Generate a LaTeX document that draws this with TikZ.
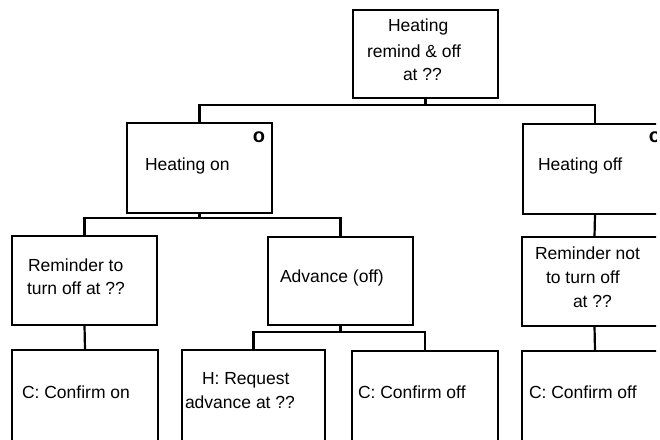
\documentclass[tikz,border=0pt]{standalone}
\usepackage{fontspec}
\setmainfont{Liberation Sans}
\begin{document}
\begin{tikzpicture}[x=1pt,y=-1pt,
  every node/.style={inner sep=0pt,outer sep=0pt},
  box/.style={draw=black,line width=2.2pt,rectangle,anchor=north west},
  txt/.style={anchor=west,font=\fontsize{17.5}{23}\selectfont},
  optmark/.style={font=\fontsize{20}{22}\selectfont\bfseries},
  link/.style={draw=black,line width=2.2pt}]
\useasboundingbox (0,0) rectangle (660,439);
\clip (0,0) rectangle (656,439);

% boxes
\node[box,minimum width=145pt,minimum height=88pt] (top) at (353,10) {};
\node[box,minimum width=145pt,minimum height=90pt] (hon) at (127,123) {};
\node[box,minimum width=144pt,minimum height=90pt] (hoff) at (523,124) {};
\node[box,minimum width=145pt,minimum height=89pt] (remto) at (12,236) {};
\node[box,minimum width=145pt,minimum height=88pt] (adv) at (268,237) {};
\node[box,minimum width=145pt,minimum height=89pt] (remnot) at (522,237) {};
\node[box,minimum width=146pt,minimum height=100pt] (con) at (12,350) {};
\node[box,minimum width=143pt,minimum height=100pt] (hreq) at (182,350) {};
\node[box,minimum width=146pt,minimum height=100pt] (coff) at (352,351) {};
\node[box,minimum width=146pt,minimum height=100pt] (coff2) at (522,351) {};

% texts
\node[txt] (t1) at (388,27) {Heating};
\node[txt] (t2) at (367,51) {remind \& off};
\node[txt] (t3) at (403,74) {at ??};
\node[txt] (t4) at (145,166) {Heating on};
\node[optmark] (o1) at (259,137) {o};
\node[txt] (t5) at (538,166) {Heating off};
\node[optmark] (o2) at (655,137) {o};
\node[txt] (t6) at (28,265) {Reminder to};
\node[txt] (t7) at (27,288) {turn off at ??};
\node[txt] (t8) at (280,278) {Advance (off)};
\node[txt] (t9) at (535,253) {Reminder not};
\node[txt] (t10) at (546,277) {to turn off};
\node[txt] (t11) at (573,301) {at ??};
\node[txt] (t12) at (22,392) {C: Confirm on};
\node[txt] (t13) at (202,380) {H: Request};
\node[txt] (t14) at (185,402) {advance at ??};
\node[txt] (t15) at (358,392) {C: Confirm off};
\node[txt] (t16) at (529,392) {C: Confirm off};

% connectors
\draw[link] (top.south) -- ++(0,7) coordinate (bus1);
\draw[link] (hon.north) |- (bus1) -| (hoff.north);
\draw[link] (hon.south) -- ++(0,5) coordinate (bus2);
\draw[link] (remto.north) |- (bus2) -| (adv.north);
\draw[link] (adv.south) -- ++(0,7) coordinate (bus3);
\draw[link] (hreq.north) |- (bus3) -| (coff.north);
\draw[link] (remto.south) -- (con.north);
\draw[link] (hoff.south) -- (remnot.north);
\draw[link] (remnot.south) -- (coff2.north);
\end{tikzpicture}
\end{document}
